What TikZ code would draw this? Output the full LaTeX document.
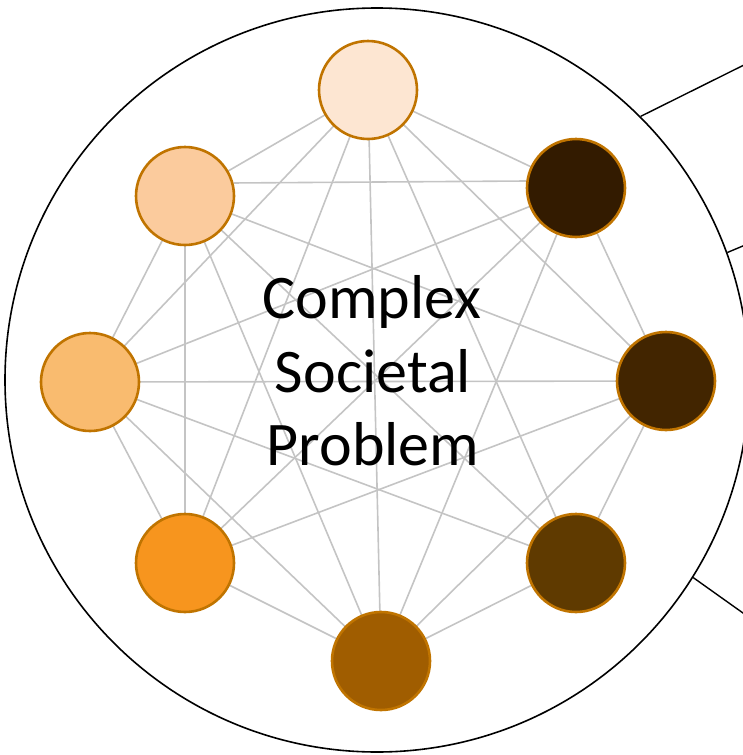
\documentclass[tikz,border=0pt]{standalone}
\usepackage{fontspec}
\setmainfont{Carlito}
\usetikzlibrary{backgrounds}
\definecolor{cA}{HTML}{FDE6D2}
\definecolor{cB}{HTML}{FBCB9D}
\definecolor{cC}{HTML}{F9BB6F}
\definecolor{cD}{HTML}{F7951E}
\definecolor{cE}{HTML}{A05D00}
\definecolor{cF}{HTML}{5F3A00}
\definecolor{cG}{HTML}{422500}
\definecolor{cH}{HTML}{331B00}
\definecolor{rim}{HTML}{C07400}
\definecolor{web}{HTML}{C4C4C4}
\tikzset{
  actor/.style={circle, draw=rim, line width=2.6pt, minimum size=98pt, inner sep=0pt},
  link/.style={draw=web, line width=1.6pt},
  outline/.style={circle, draw=black, line width=1.6pt, minimum size=744pt, inner sep=0pt},
  spoke/.style={draw=black, line width=1.4pt},
  label/.style={font=\fontsize{62}{72}\selectfont, anchor=base, inner sep=0pt}
}
\begin{document}
\begin{tikzpicture}[x=1pt,y=-1pt]
\useasboundingbox (0,0) rectangle (743,755);
\node[outline] (big) at (377,380) {};
% outgoing lines
\coordinate (e1) at (750,62);
\coordinate (e2) at (750,243);
\coordinate (e3) at (750,444);
\coordinate (e4) at (750,618);
\draw[spoke] (big.45.8) -- (e1);
\draw[spoke] (big.20.6) -- (e2);
\draw[spoke] (big.-10.4) -- (e3);
\draw[spoke] (big.-32.1) -- (e4);
% actors
\node[actor, fill=cA] (nA) at (368,90) {};
\node[actor, fill=cB] (nB) at (185,196) {};
\node[actor, fill=cC] (nC) at (90,382) {};
\node[actor, fill=cD] (nD) at (185,563) {};
\node[actor, fill=cE] (nE) at (381,661) {};
\node[actor, fill=cF] (nF) at (576,563) {};
\node[actor, fill=cG] (nG) at (666,381) {};
\node[actor, fill=cH] (nH) at (576,188) {};
% connections (behind the actors)
\begin{scope}[on background layer]
\foreach \a/\b in {A/B,A/C,A/D,A/E,A/F,A/G,A/H,
                   B/C,B/D,B/E,B/F,B/G,
                   C/D,C/E,C/F,C/G,C/H,
                   D/E,D/G,D/H,
                   E/F,E/G,E/H,
                   F/G,
                   G/H}
  \draw[link] (n\a.center) -- (n\b.center);
\draw[link] (nB.15) -- (nH.172);
\end{scope}
\node[label] (t1) at (372,318) {Complex};
\node[label] (t2) at (373,392) {Societal};
\node[label] (t3) at (373,465) {Problem};
\end{tikzpicture}
\end{document}
